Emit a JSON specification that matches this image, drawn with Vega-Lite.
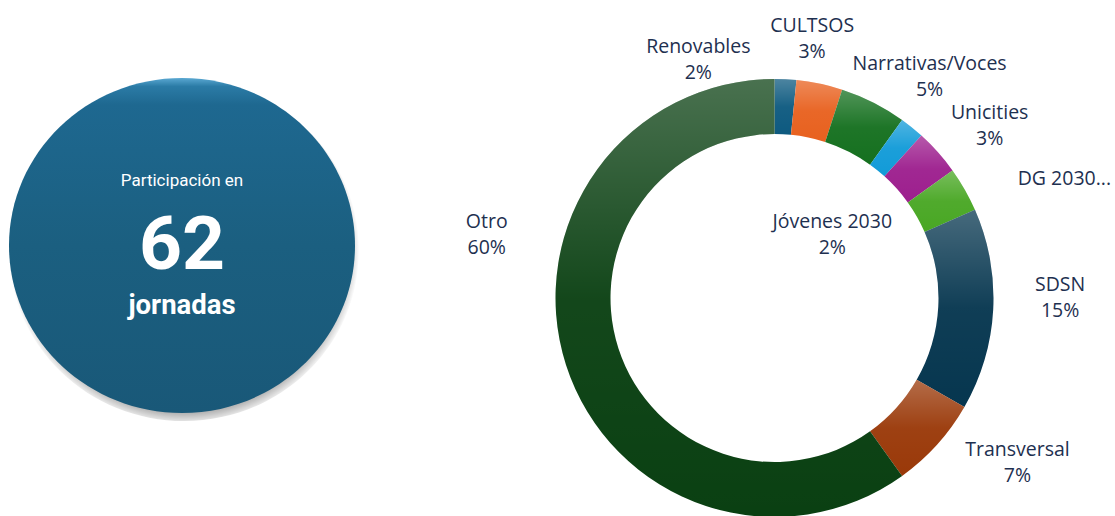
{
  "$schema": "https://vega.github.io/schema/vega-lite/v6.json",
  "padding": {"left": 0, "top": 15, "right": 0, "bottom": 0},
  "spacing": 95.5,
  "config": {
    "view": {"stroke": null},
    "text": {"font": "Open Sans", "fontSize": 19.5, "lineHeight": 26, "lineBreak": "\n", "color": "#1E3050", "align": "center", "baseline": "middle"}
  },
  "datasets": {
    "kpi": [{"metric": "jornadas", "value": 62}],
    "share": [
      {"cat": "Renovables", "label": "Renovables\n2%", "v": 1.6, "order": 1},
      {"cat": "CULTSOS", "label": "CULTSOS\n3%", "v": 3.4, "order": 2},
      {"cat": "Narrativas/Voces", "label": "Narrativas/Voces\n5%", "v": 4.9, "order": 3},
      {"cat": "Jóvenes 2030", "label": "Jóvenes 2030\n2%", "v": 1.8, "order": 4},
      {"cat": "Unicities", "label": "Unicities\n3%", "v": 3.4, "order": 5},
      {"cat": "DG 2030", "label": "DG 2030...", "v": 3.3, "order": 6},
      {"cat": "SDSN", "label": "SDSN\n15%", "v": 14.9, "order": 7},
      {"cat": "Transversal", "label": "Transversal\n7%", "v": 6.8, "order": 8},
      {"cat": "Otro", "label": "Otro\n60%", "v": 59.9, "order": 9}
    ]
  },
  "hconcat": [
    {
      "width": 364,
      "height": 333,
      "data": {"name": "kpi"},
      "layer": [
        {
          "mark": {
            "type": "point",
            "shape": "M -1 0.03 C -1 -0.514 -0.5469 -0.955 0.012 -0.955 C 0.5709 -0.955 1.024 -0.514 1.024 0.03 C 1.024 0.574 0.5709 1.015 0.012 1.015 C -0.5469 1.015 -1 0.574 -1 0.03 Z",
            "size": 119716,
            "filled": true,
            "opacity": 1,
            "strokeWidth": 0,
            "fill": {
              "gradient": "radial", "x1": 0.5, "y1": 0.5, "r1": 0, "x2": 0.5, "y2": 0.5, "r2": 0.5,
              "stops": [
                {"offset": 0, "color": "rgba(70,70,70,0.45)"},
                {"offset": 0.93, "color": "rgba(70,70,70,0.4)"},
                {"offset": 1, "color": "rgba(70,70,70,0)"}
              ]
            }
          },
          "encoding": {}
        },
        {
          "mark": {
            "type": "point",
            "shape": "M -1 0 C -1 -0.5346 -0.5523 -0.968 0 -0.968 C 0.5523 -0.968 1 -0.5346 1 0 C 1 0.5346 0.5523 0.968 0 0.968 C -0.5523 0.968 -1 0.5346 -1 0 Z",
            "size": 119716,
            "filled": true,
            "opacity": 1,
            "strokeWidth": 0,
            "fill": {
              "gradient": "linear", "x1": 0, "y1": 0, "x2": 0, "y2": 1,
              "stops": [
                {"offset": 0, "color": "#5AA8D2"},
                {"offset": 0.025, "color": "#2B7BA6"},
                {"offset": 0.08, "color": "#1E6890"},
                {"offset": 0.5, "color": "#1B5F80"},
                {"offset": 1, "color": "#195878"}
              ]
            }
          },
          "encoding": {}
        },
        {
          "mark": {"type": "text", "text": "Participación en", "font": "Roboto", "fontSize": 17, "color": "#FFFFFF", "dy": -64.5},
          "encoding": {}
        },
        {
          "mark": {"type": "text", "font": "Roboto", "fontSize": 75, "fontWeight": "bold", "color": "#FFFFFF", "dy": 0},
          "encoding": {"text": {"field": "value", "type": "quantitative"}}
        },
        {
          "mark": {"type": "text", "font": "Roboto", "fontSize": 27.5, "fontWeight": "bold", "color": "#FFFFFF", "dy": 60.5},
          "encoding": {"text": {"field": "metric", "type": "nominal"}}
        }
      ]
    },
    {
      "width": 630,
      "height": 438,
      "data": {"name": "share"},
      "transform": [
        {"stack": "v", "groupby": [], "sort": [{"field": "order", "order": "ascending"}], "as": ["t0", "t1"]}
      ],
      "layer": [
        {
          "mark": {"type": "arc", "radius": 219, "radius2": 164},
          "encoding": {
            "theta": {"field": "t0", "type": "quantitative", "stack": null, "scale": {"domain": [0, 100]}},
            "theta2": {"field": "t1"},
            "color": {
              "field": "cat", "type": "nominal", "legend": null,
              "scale": {
                "domain": ["Renovables", "CULTSOS", "Narrativas/Voces", "Jóvenes 2030", "Unicities", "DG 2030", "SDSN", "Transversal", "Otro"],
                "range": ["#0E5A80", "#E8611F", "#15701F", "#129BD8", "#9D1F8E", "#49A724", "#06364F", "#9A3909", "#0A4012"]
              }
            }
          }
        },
        {
          "mark": {
            "type": "arc", "radius": 219, "radius2": 164,
            "fill": {
              "gradient": "linear", "x1": 0, "y1": 0, "x2": 0, "y2": 1,
              "stops": [
                {"offset": 0, "color": "rgba(255,255,255,0.26)"},
                {"offset": 0.5, "color": "rgba(255,255,255,0.04)"},
                {"offset": 1, "color": "rgba(255,255,255,0)"}
              ]
            }
          },
          "encoding": {
            "theta": {"field": "t0", "type": "quantitative", "stack": null},
            "theta2": {"field": "t1"}
          }
        },
        {
          "transform": [
            {"filter": "datum.cat === 'Renovables'"},
            {"fold": ["t0", "t1"], "as": ["edge", "pos"]},
            {"aggregate": [{"op": "mean", "field": "pos", "as": "mid"}], "groupby": ["cat", "label"]}
          ],
          "mark": {"type": "text", "radius": 275, "dx": -90, "dy": 24},
          "encoding": {"theta": {"field": "mid", "type": "quantitative", "stack": null}, "text": {"field": "label", "type": "nominal"}}
        },
        {
          "transform": [
            {"filter": "datum.cat === 'CULTSOS'"},
            {"fold": ["t0", "t1"], "as": ["edge", "pos"]},
            {"aggregate": [{"op": "mean", "field": "pos", "as": "mid"}], "groupby": ["cat", "label"]}
          ],
          "mark": {"type": "text", "radius": 275, "dx": -19, "dy": -3},
          "encoding": {"theta": {"field": "mid", "type": "quantitative", "stack": null}, "text": {"field": "label", "type": "nominal"}}
        },
        {
          "transform": [
            {"filter": "datum.cat === 'Narrativas/Voces'"},
            {"fold": ["t0", "t1"], "as": ["edge", "pos"]},
            {"aggregate": [{"op": "mean", "field": "pos", "as": "mid"}], "groupby": ["cat", "label"]}
          ],
          "mark": {"type": "text", "radius": 275, "dx": 31, "dy": 11},
          "encoding": {"theta": {"field": "mid", "type": "quantitative", "stack": null}, "text": {"field": "label", "type": "nominal"}}
        },
        {
          "transform": [
            {"filter": "datum.cat === 'Jóvenes 2030'"},
            {"fold": ["t0", "t1"], "as": ["edge", "pos"]},
            {"aggregate": [{"op": "mean", "field": "pos", "as": "mid"}], "groupby": ["cat", "label"]}
          ],
          "mark": {"type": "text", "radius": 100, "dx": -5, "dy": 2},
          "encoding": {"theta": {"field": "mid", "type": "quantitative", "stack": null}, "text": {"field": "label", "type": "nominal"}}
        },
        {
          "transform": [
            {"filter": "datum.cat === 'Unicities'"},
            {"fold": ["t0", "t1"], "as": ["edge", "pos"]},
            {"aggregate": [{"op": "mean", "field": "pos", "as": "mid"}], "groupby": ["cat", "label"]}
          ],
          "mark": {"type": "text", "radius": 275, "dx": 10, "dy": -2},
          "encoding": {"theta": {"field": "mid", "type": "quantitative", "stack": null}, "text": {"field": "label", "type": "nominal"}}
        },
        {
          "transform": [
            {"filter": "datum.cat === 'DG 2030'"},
            {"fold": ["t0", "t1"], "as": ["edge", "pos"]},
            {"aggregate": [{"op": "mean", "field": "pos", "as": "mid"}], "groupby": ["cat", "label"]}
          ],
          "mark": {"type": "text", "radius": 275, "dx": 51, "dy": 17},
          "encoding": {"theta": {"field": "mid", "type": "quantitative", "stack": null}, "text": {"field": "label", "type": "nominal"}}
        },
        {
          "transform": [
            {"filter": "datum.cat === 'SDSN'"},
            {"fold": ["t0", "t1"], "as": ["edge", "pos"]},
            {"aggregate": [{"op": "mean", "field": "pos", "as": "mid"}], "groupby": ["cat", "label"]}
          ],
          "mark": {"type": "text", "radius": 275, "dx": 11, "dy": -28},
          "encoding": {"theta": {"field": "mid", "type": "quantitative", "stack": null}, "text": {"field": "label", "type": "nominal"}}
        },
        {
          "transform": [
            {"filter": "datum.cat === 'Transversal'"},
            {"fold": ["t0", "t1"], "as": ["edge", "pos"]},
            {"aggregate": [{"op": "mean", "field": "pos", "as": "mid"}], "groupby": ["cat", "label"]}
          ],
          "mark": {"type": "text", "radius": 275, "dx": 39, "dy": -32},
          "encoding": {"theta": {"field": "mid", "type": "quantitative", "stack": null}, "text": {"field": "label", "type": "nominal"}}
        },
        {
          "transform": [
            {"filter": "datum.cat === 'Otro'"},
            {"fold": ["t0", "t1"], "as": ["edge", "pos"]},
            {"aggregate": [{"op": "mean", "field": "pos", "as": "mid"}], "groupby": ["cat", "label"]}
          ],
          "mark": {"type": "text", "radius": 275, "dx": -26, "dy": -160},
          "encoding": {"theta": {"field": "mid", "type": "quantitative", "stack": null}, "text": {"field": "label", "type": "nominal"}}
        }
      ]
    }
  ]
}
